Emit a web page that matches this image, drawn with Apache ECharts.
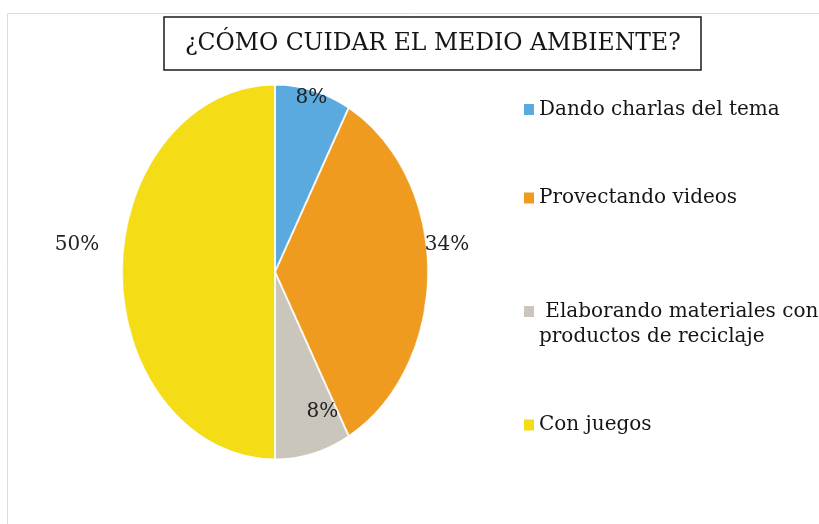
<!DOCTYPE html>
<html>
<head>
<meta charset="utf-8">
<script src="https://cdn.jsdelivr.net/npm/echarts@6/dist/echarts.min.js"></script>
<style>
  html, body { margin: 0; padding: 0; background: #fff; }
  #wrap { position: relative; width: 819px; height: 524px; overflow: hidden; }
  #pie, #main { position: absolute; left: 0; top: 0; width: 819px; height: 524px; }
  /* el pastel del original es una elipse: se aplasta en horizontal */
  #pie { transform-origin: 275px 272px; transform: scaleX(0.816); }
</style>
</head>
<body>
<div id="wrap">
  <div id="pie"></div>
  <div id="main"></div>
</div>
<script>
// datos del grafico
var titulo = '¿CÓMO CUIDAR EL MEDIO AMBIENTE?';
var categorias = [
  'Dando charlas del tema',
  'Provectando videos',
  ' Elaborando materiales con\nproductos de reciclaje',
  'Con juegos'
];
var porcentajes = [8, 34, 8, 50];
var colores = ['#5aa9df', '#ee9b1f', '#cbc6bc', '#f4dc17'];
// pequeño ajuste de cada etiqueta (px)
var ajusteEtiqueta = [[-8, -2], [-6, -27], [3, -33], [-20, -27]];

var serif = "'DejaVu Serif', serif";

var datosPie = categorias.map(function (c, i) {
  return { name: c, value: porcentajes[i], itemStyle: { color: colores[i] } };
});

// pastel (se dibuja aparte para poder estirarlo)
var pie = echarts.init(document.getElementById('pie'));
pie.setOption({
  animation: false,
  series: [{
    type: 'pie',
    center: [275, 272],
    radius: 187.5,
    startAngle: 90,
    clockwise: true,
    silent: true,
    label: { show: false },
    labelLine: { show: false },
    itemStyle: { borderColor: '#fff', borderWidth: 2 },
    data: datosPie
  }]
});

// titulo, leyenda y etiquetas
var chart = echarts.init(document.getElementById('main'));
chart.setOption({
  animation: false,
  backgroundColor: 'transparent',
  graphic: [{
    type: 'rect',
    z: -10,
    shape: { x: 7.5, y: 13.5, width: 900, height: 600 },
    style: { fill: 'none', stroke: '#dcdcdc', lineWidth: 1 }
  }],
  title: {
    text: titulo,
    left: 164,
    top: 17,
    padding: [12, 21, 12, 21],
    borderColor: '#1a1a1a',
    borderWidth: 1.5,
    textStyle: {
      fontFamily: serif,
      fontWeight: 'normal',
      fontSize: 23.5,
      lineHeight: 29,
      color: '#151515'
    }
  },
  legend: {
    orient: 'vertical',
    left: 519,
    top: 92,
    icon: 'rect',
    itemWidth: 10,
    itemHeight: 11,
    itemGap: 63.5,
    selectedMode: false,
    // la entrada de dos lineas lleva una linea en blanco arriba,
    // asi el cuadrito queda junto a la primera linea como en el original
    formatter: function (name) {
      return name.indexOf('\n') >= 0 ? '\n' + name : name;
    },
    textStyle: {
      fontFamily: serif,
      fontSize: 20,
      lineHeight: 25,
      color: '#151515'
    },
    data: categorias.map(function (c, i) {
      return { name: c, itemStyle: { color: colores[i] } };
    })
  },
  series: [{
    type: 'pie',
    center: [275, 272],
    radius: [150, 200],
    startAngle: 90,
    clockwise: true,
    silent: true,
    itemStyle: { color: 'rgba(0,0,0,0)' },
    labelLine: { show: false },
    label: {
      show: true,
      position: 'inside',
      formatter: '{c}%',
      fontFamily: serif,
      fontSize: 20,
      color: '#222'
    },
    data: categorias.map(function (c, i) {
      return {
        name: c,
        value: porcentajes[i],
        label: { offset: ajusteEtiqueta[i] }
      };
    })
  }]
});
</script>
</body>
</html>
